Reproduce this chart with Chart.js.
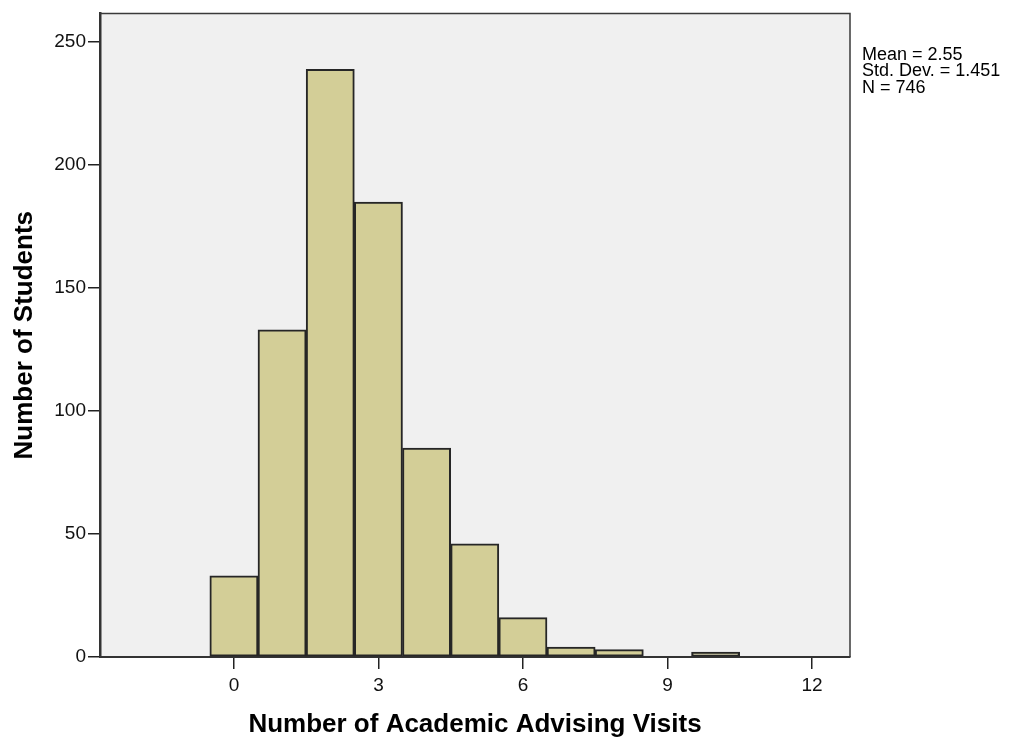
<!DOCTYPE html>
<html lang="en">
<head>
    <meta charset="UTF-8">
    <title>Number of Academic Advising Visits</title>
    <style>
        body {
            margin: 0;
            background-color: #fff;
        }
        .chart-container {
            width: 1019px;
            height: 745px;
        }
    </style>
</head>
<body>

    <div class="chart-container">
        <canvas id="histChart" width="1019" height="745"></canvas>
    </div>

    <script src="https://cdn.jsdelivr.net/npm/chart.js"></script>
    <script>
        // Histogram data
        const visits = [0, 1, 2, 3, 4, 5, 6, 7, 8, 9, 10];
        const students = [33, 133, 239, 185, 85, 46, 16, 4, 3, 0, 2];
        const xTicks = [0, 3, 6, 9, 12];
        const yTicks = [0, 50, 100, 150, 200, 250];
        const statLines = ['Mean = 2.55', 'Std. Dev. = 1.451', 'N = 746'];

        const fontFamily = '"Liberation Sans", Arial, sans-serif';

        // plot background, frame and the stats box on the right
        const frameAndStats = {
            id: 'frameAndStats',
            beforeDraw(chart) {
                const {ctx, chartArea: a} = chart;
                ctx.save();
                ctx.fillStyle = '#f0f0f0';
                ctx.fillRect(a.left, a.top, a.right - a.left, a.bottom - a.top);
                ctx.restore();
            },
            afterDraw(chart) {
                const {ctx, chartArea: a} = chart;
                ctx.save();
                ctx.strokeStyle = '#3a3a3a';
                ctx.lineWidth = 1.5;
                ctx.beginPath();
                ctx.moveTo(a.left, a.top);
                ctx.lineTo(a.right, a.top);
                ctx.lineTo(a.right, a.bottom);
                ctx.stroke();

                ctx.fillStyle = '#000';
                ctx.font = '18px ' + fontFamily;
                ctx.textBaseline = 'top';
                ctx.textAlign = 'left';
                statLines.forEach((line, i) => {
                    ctx.fillText(line, a.right + 12, 46 + i * 16.5);
                });
                ctx.restore();
            }
        };

        const ctx = document.getElementById('histChart').getContext('2d');
        const histChart = new Chart(ctx, {
            type: 'bar',
            data: {
                datasets: [{
                    data: visits.map((v, i) => ({x: v, y: students[i]})),
                    backgroundColor: '#d3ce97',
                    borderColor: '#262626',
                    borderWidth: 2,
                    borderSkipped: false,
                    barPercentage: 1,
                    categoryPercentage: 1
                }]
            },
            options: {
                responsive: false,
                animation: false,
                layout: {
                    padding: {top: 10, right: 169, left: 0, bottom: 0}
                },
                plugins: {
                    legend: {display: false},
                    tooltip: {enabled: false}
                },
                scales: {
                    x: {
                        type: 'linear',
                        offset: false,
                        min: -2.78,
                        max: 12.79,
                        afterBuildTicks: (scale) => {
                            scale.ticks = xTicks.map(v => ({value: v}));
                        },
                        afterFit: (scale) => {
                            scale.height = 88;
                        },
                        grid: {
                            offset: false,
                            drawOnChartArea: false,
                            drawTicks: true,
                            tickLength: 12,
                            color: '#222',
                            lineWidth: 1.5
                        },
                        border: {color: '#333', width: 2},
                        ticks: {
                            color: '#111',
                            padding: 5,
                            maxRotation: 0,
                            font: {family: fontFamily, size: 19}
                        },
                        title: {
                            display: true,
                            text: 'Number of Academic Advising Visits',
                            color: '#000',
                            padding: {top: 0, bottom: 5},
                            font: {family: fontFamily, size: 26, weight: 'bold'}
                        }
                    },
                    y: {
                        min: 0,
                        max: 261.7,
                        afterBuildTicks: (scale) => {
                            scale.ticks = yTicks.map(v => ({value: v}));
                        },
                        afterFit: (scale) => {
                            scale.width = 100;
                        },
                        grid: {
                            drawOnChartArea: false,
                            drawTicks: true,
                            tickLength: 12,
                            color: '#222',
                            lineWidth: 1.5
                        },
                        border: {color: '#333', width: 2.5},
                        ticks: {
                            color: '#111',
                            padding: 2,
                            font: {family: fontFamily, size: 19}
                        },
                        title: {
                            display: true,
                            text: 'Number of Students',
                            color: '#000',
                            padding: {top: 9, bottom: 0},
                            font: {family: fontFamily, size: 26, weight: 'bold'}
                        }
                    }
                }
            },
            plugins: [frameAndStats]
        });
    </script>

</body>
</html>
